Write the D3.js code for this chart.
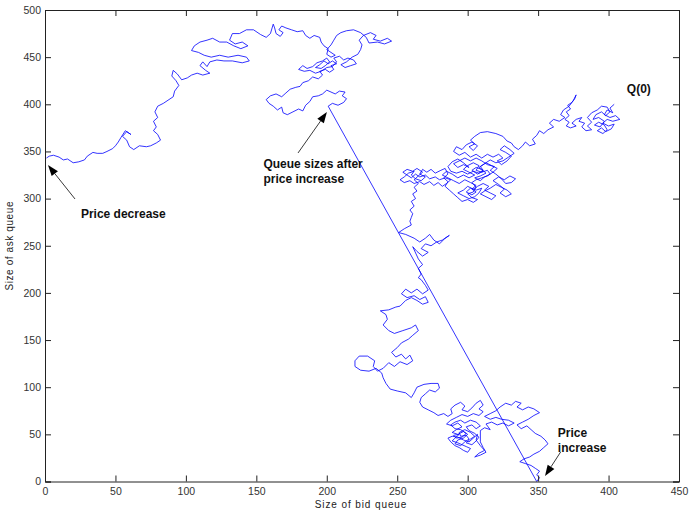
<!DOCTYPE html>
<html><head><meta charset="utf-8">
<script src="https://cdn.jsdelivr.net/npm/d3@7"></script>
<style>body{margin:0;background:#fff}svg{display:block}</style>
</head><body>
<svg id="c" width="690" height="512"></svg>
<script>
// ---- data (bid queue size, ask queue size) ----
const xTicks = [0,50,100,150,200,250,300,350,400,450];
const yTicks = [0,50,100,150,200,250,300,350,400,450,500];

const segStart = [[404,400],[401,396],[403,391],[399,394],[397,389],[401,386],[405,388],[408,384],[403,382],[399,384],[396,380],[400,377],[404,379],[402,374],[398,371],[395,375],[392,372],[396,369],[399,373],[397,378],[393,381],[390,378],[394,376],[397,382],[393,386],[389,384],[391,389],[395,392],[398,388],[401,392],[399,397],[395,398],[392,394],[388,391],[385,386],[388,381],[385,377],[388,373],[384,372],[381,376],[383,380],[379,382],[381,386],[377,384],[374,380],[377,377],[373,375],[370,377],[372,381],[369,384],[372,388],[370,392],[373,395],[371,399],[374,402],[376,406],[377,410],[375,404],[372,398],[368,394],[366,389],[369,386],[365,382],[361,384],[358,380],[361,376],[357,373],[354,369],[351,372],[349,367],[346,363],[348,358],[344,356],[341,360],[339,356],[336,352],[333,355],[331,359],[328,361]];

const segCluster = [[325,366],[320,369],[314,371],[309,370],[305,366],[302,362],[305,358],[301,355],[304,351],[307,356],[303,360],[299,357],[296,352],[292,355],[290,350],[294,346],[298,349],[302,344],[306,347],[310,343],[314,347],[318,344],[322,347],[325,343],[321,340],[324,336],[328,340],[331,345],[327,349],[323,352],[326,356],[330,352],[333,348],[329,344],[325,340],[320,338],[316,341],[312,337],[308,333],[311,329],[307,326],[303,330],[306,333],[310,331],[313,327],[309,324],[305,322],[309,319],[312,323],[316,326],[314,330],[310,328],[306,330],[308,335],[304,338],[300,335],[297,331],[301,328],[305,325],[301,322],[297,325],[293,322],[289,326],[285,329],[282,325],[286,322],[290,319],[294,316],[298,320],[302,317],[306,314],[303,310],[306,307],[303,304],[299,307],[302,311],[306,309],[310,311],[308,306],[305,302],[301,300],[297,303],[293,306],[297,309],[300,313],[304,310],[307,313],[311,316],[315,313],[312,309],[316,306],[320,303],[317,299],[313,302],[309,305],[312,308],[316,311],[320,315],[324,312],[328,309],[331,305],[327,302],[323,306],[326,310],[322,315],[318,319],[322,323],[326,320],[330,324],[334,321],[331,317],[327,316],[324,321],[320,326],[316,330],[319,334],[314,336],[310,340],[306,343],[302,340],[298,343],[294,340],[290,337],[293,333],[297,336],[301,333],[297,338],[293,342],[289,339],[286,334],[288,329],[292,327],[296,329],[300,326],[304,329],[308,327],[311,330],[309,334],[313,338],[317,335],[321,332],[318,328],[314,324],[310,322],[306,320],[303,317],[306,312],[304,307],[300,305],[303,301],[307,299],[304,296],[300,299],[296,297],[293,301],[290,305],[287,309],[284,313],[286,318],[283,322],[286,326],[284,332],[281,330]];

const segLeftCluster = [[277,327],[274,331],[271,328],[268,331],[266,326],[270,323],[267,319],[263,321],[260,325],[262,329],[258,327],[255,323],[252,320],[255,317],[259,319],[262,316],[266,318],[269,315],[273,318],[276,314],[279,317],[282,313],[285,316],[288,320],[284,322],[280,320],[277,323],[273,321],[270,325],[266,323],[263,326],[260,322],[257,325],[254,328],[257,331],[261,329],[264,332],[268,328],[265,324],[262,320],[265,316],[262,312],[264,308],[261,305],[263,300],[260,297],[262,292],[259,288],[261,284],[260,280]];

const segDescent = [[259,276],[260,272],[255,268],[251,264],[256,262],[262,258],[266,254],[270,258],[273,262],[276,256],[280,252],[284,258],[287,261],[282,256],[278,254],[274,250],[270,252],[267,247],[272,243],[268,239],[264,244],[261,249],[265,236],[268,230],[265,226],[267,220],[265,216],[267,214],[270,208],[272,203],[268,199],[264,204],[260,200],[256,204],[253,199],[257,195],[262,197],[266,193],[270,196],[272,190],[268,188],[264,192],[260,195],[256,192],[252,186],[249,185],[244,182],[238,181],[242,177],[243,172],[240,166],[244,160],[248,157],[254,160],[260,163],[263,166],[265,160],[261,155],[258,151],[253,147],[250,142],[246,137],[249,132],[253,135],[256,130],[259,134],[261,128],[257,124],[252,127],[248,122],[244,126],[240,120],[236,117],[233,122],[234,128],[229,133],[223,133],[220,128],[220,122],[224,118],[230,117],[235,120],[239,115],[240,110],[242,104],[245,98],[250,96],[256,94],[260,89],[262,94],[264,100],[269,103],[274,104],[279,104],[280,99]];

const segBottom = [[277,95],[273,97],[270,93],[267,89],[266,84],[268,79],[272,76],[276,73],[279,70],[283,72],[286,69],[289,72],[288,77],[291,81],[295,84],[298,80],[296,76],[300,74],[303,78],[306,83],[309,86],[311,81],[308,77],[311,74],[308,70],[304,72],[300,69],[296,71],[292,68],[288,65],[285,61],[289,59],[293,62],[296,58],[292,55],[289,52],[293,50],[297,53],[300,50],[297,46],[293,44],[291,40],[295,38],[298,42],[301,45],[299,49],[295,48],[294,52],[298,55],[302,52],[305,48],[302,45],[299,41],[303,39],[306,43],[308,47],[305,51],[301,54],[299,58],[303,60],[306,56],[309,59],[306,63],[302,65],[298,62],[295,65],[291,63],[288,60],[291,56],[295,55],[299,51],[296,47],[292,46],[290,49],[294,50],[291,46],[289,43],[293,41],[296,39],[299,37],[302,35],[300,31],[297,33],[294,36],[291,38],[288,42],[286,46],[289,48],[293,47],[297,44],[301,42],[304,46],[307,50],[306,44],[309,38],[312,33],[308,30],[305,26],[309,28],[313,31],[311,36],[309,42],[309,54],[312,57],[316,55],[313,61],[317,63],[321,60],[325,62],[329,59],[333,62],[329,65],[324,66],[320,68],[316,66],[312,69],[316,72],[320,75],[323,79],[327,83],[331,81],[334,85],[338,83],[335,79],[339,76],[343,79],[347,77],[351,73],[347,70],[343,66],[339,63],[335,60],[338,56],[342,59],[345,55],[348,51],[352,48],[355,44],[357,40],[354,36],[351,32],[347,29],[344,26],[340,24],[337,21],[341,19],[345,17],[348,14],[351,11],[349,7],[351,4],[349,0]];

const segAfter = [[201,398],[204,401],[208,399],[212,402],[214,406],[211,409],[213,413],[209,414],[206,411],[203,413],[200,415],[197,411],[194,409],[190,408],[188,403],[185,399],[183,393],[180,395],[176,392],[172,389],[169,391],[168,397],[165,394],[162,398],[159,401],[157,405],[160,409],[164,411],[168,408],[171,412],[174,416],[178,418],[181,419],[183,423],[187,425],[190,429],[194,427],[197,431],[195,435],[199,437],[202,434],[205,437],[203,441],[207,443],[204,446],[201,443],[198,446],[195,442],[192,439],[196,438],[199,441],[202,445],[200,449],[197,446],[193,444],[190,440],[186,438],[183,441],[180,437],[184,435],[188,436],[192,433],[196,435],[200,439],[204,440],[207,445],[205,449],[209,451],[212,447],[215,449],[219,447],[221,443],[217,441],[213,439],[210,442],[214,445],[218,450],[222,453],[224,458],[225,463],[223,468],[226,473],[231,476],[235,473],[233,469],[238,467],[243,470],[246,467],[241,464],[236,466],[230,465],[228,471],[224,476],[219,479],[214,478],[210,476],[207,473],[205,468],[203,463],[200,458],[203,455],[206,452],[203,450],[200,453],[201,459],[198,462],[196,466],[195,471],[191,473],[188,470],[185,473],[183,478],[179,477],[175,479],[171,481],[168,483],[166,479],[169,476],[167,472],[164,475],[163,481],[162,485]];

const segTopArc = [[160,475],[157,471],[153,474],[148,479],[143,479],[138,475],[133,475],[131,468],[135,464],[140,466],[144,462],[139,459],[134,462],[129,466],[124,466],[119,470],[115,468],[110,466],[106,462],[104,457],[109,455],[113,452],[118,450],[124,452],[130,450],[137,452],[143,450],[145,446],[140,444],[133,446],[127,446],[122,447],[117,445],[115,440],[112,445],[110,441],[114,436],[117,433],[112,431],[108,433],[104,431],[101,428],[97,426],[94,432],[91,436],[90,430],[93,425],[95,420],[92,414],[91,408],[88,405],[84,401],[80,398],[78,392],[80,386],[77,382],[79,376],[77,372],[80,368],[82,362],[79,359],[75,356],[72,355],[67,356],[63,352],[60,355],[58,362],[55,366],[58,371],[61,368],[57,372],[54,365],[52,360],[50,356],[48,353],[44,350],[41,348],[37,348],[34,349],[30,345],[28,341],[24,339],[20,338],[16,342],[13,341],[10,344],[6,346],[3,345],[1,343]];

const labels = [
  {text:"Q(0)", x:413, y:412},
  {text:"Queue sizes after", x:155, y:332},
  {text:"price increase", x:155, y:317},
  {text:"Price decrease", x:25.5, y:279},
  {text:"Price", x:364, y:47},
  {text:"increase", x:364, y:31}
];
const arrows = [
  {from:[21.3,299.6], to:[2.1,335.6]},
  {from:[179.6,348.4], to:[200.1,391.8]},
  {from:[366,31.3], to:[354.9,5.8]}
];

// ---- drawing ----
const svg = d3.select("#c");
const m = {l:45, r:679, t:10, b:481.5};
const x = d3.scaleLinear().domain([0,450]).range([m.l, m.r]);
const y = d3.scaleLinear().domain([0,500]).range([m.b, m.t]);

const path = [].concat(segStart, segCluster, segLeftCluster, segDescent, segBottom, segAfter, segTopArc);
svg.append("path").datum(path)
  .attr("d", d3.line().x(d=>x(d[0])).y(d=>y(d[1])))
  .attr("fill","none").attr("stroke","#0000ff").attr("stroke-width",0.8).attr("stroke-linejoin","round");

const axCol = "#222";
const tl = 6;
const gB = svg.append("g").attr("transform",`translate(0,${m.b})`).call(d3.axisBottom(x).tickValues(xTicks).tickSize(-tl).tickPadding(4));
const gT = svg.append("g").attr("transform",`translate(0,${m.t})`).call(d3.axisTop(x).tickValues(xTicks).tickSize(-tl).tickFormat(""));
const gL = svg.append("g").attr("transform",`translate(${m.l},0)`).call(d3.axisLeft(y).tickValues(yTicks).tickSize(-tl).tickPadding(4));
const gR = svg.append("g").attr("transform",`translate(${m.r},0)`).call(d3.axisRight(y).tickValues(yTicks).tickSize(-tl).tickFormat(""));
[gB,gT,gL,gR].forEach(g=>{
  g.select(".domain").attr("stroke",axCol);
  g.selectAll(".tick line").attr("stroke",axCol);
  g.selectAll("text").attr("fill","#333").style("font-family","Liberation Sans, Arial, sans-serif").style("font-size","10.5px");
});
gB.selectAll(".tick text").attr("dy","0.9em");

svg.append("text").attr("x",(m.l+m.r)/2-1).attr("y",508).attr("text-anchor","middle")
  .style("font-family","Liberation Sans, Arial, sans-serif").style("font-size","10px").style("letter-spacing","0.9px")
  .attr("fill","#222").text("Size of bid queue");
svg.append("text").attr("transform",`translate(13,${(m.t+m.b)/2}) rotate(-90)`).attr("text-anchor","middle")
  .style("font-family","Liberation Sans, Arial, sans-serif").style("font-size","10px").style("letter-spacing","0.6px")
  .attr("fill","#222").text("Size of ask queue");

svg.selectAll(".lab").data(labels).join("text").attr("class","lab")
  .attr("x",d=>x(d.x)).attr("y",d=>y(d.y))
  .style("font-family","Liberation Sans, Arial, sans-serif").style("font-size","12px").style("font-weight","bold")
  .attr("fill","#111").text(d=>d.text);

arrows.forEach(a=>{
  const x1=x(a.from[0]), y1=y(a.from[1]), x2=x(a.to[0]), y2=y(a.to[1]);
  const ang=Math.atan2(y2-y1,x2-x1), L=11, W=4;
  const bx=x2-L*Math.cos(ang), by=y2-L*Math.sin(ang);
  svg.append("line").attr("x1",x1).attr("y1",y1).attr("x2",bx).attr("y2",by).attr("stroke","#222").attr("stroke-width",0.9);
  svg.append("polygon").attr("points",[[x2,y2],[bx+W*Math.sin(ang),by-W*Math.cos(ang)],[bx-W*Math.sin(ang),by+W*Math.cos(ang)]].map(p=>p.join(",")).join(" "))
    .attr("fill","#000");
});
</script>
</body></html>
